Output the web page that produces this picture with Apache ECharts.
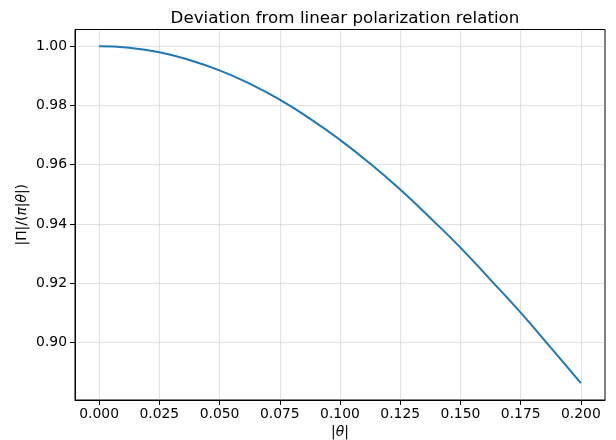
<!DOCTYPE html>
<html>
<head>
<meta charset="utf-8">
<script src="https://cdn.jsdelivr.net/npm/echarts@6/dist/echarts.min.js"></script>
<style>html,body{margin:0;padding:0;background:#fff}#c{width:616px;height:440px}</style>
</head>
<body>
<div id="c"></div>
<script>
const thetaValues = [0.0000, 0.0125, 0.0250, 0.0375, 0.0500, 0.0625, 0.0750, 0.0875, 0.1000, 0.1125, 0.1250, 0.1375, 0.1500, 0.1625, 0.1750, 0.1875, 0.2000];
const ratioValues = [1.0000, 0.9995, 0.9980, 0.9954, 0.9919, 0.9874, 0.9820, 0.9756, 0.9684, 0.9604, 0.9516, 0.9420, 0.9320, 0.9211, 0.9100, 0.8982, 0.8862];
const xTicks = [0.000, 0.025, 0.050, 0.075, 0.100, 0.125, 0.150, 0.175, 0.200];
const yTicks = [0.90, 0.92, 0.94, 0.96, 0.98, 1.00];
const titleText = 'Deviation from linear polarization relation';

const chart = echarts.init(document.getElementById('c'), null, {renderer: 'canvas'});
const font = 'DejaVu Sans';
const fs = 13.9;
const gridColor = 'rgba(176,176,176,0.38)';
chart.setOption({
  animation: false,
  backgroundColor: '#fff',
  title: {
    text: titleText,
    left: 340, top: 5, textAlign: 'center',
    textStyle: {fontFamily: font, fontSize: 16.7, fontWeight: 'normal', color: '#000'}
  },
  grid: {left: 75, right: 11, top: 29.5, bottom: 40, outerBoundsMode: 'none', containLabel: false, show: true, borderColor: '#000', borderWidth: 1, backgroundColor: 'transparent'},
  xAxis: {
    type: 'value', min: -0.01, max: 0.21,
    name: '{a||}{i|θ}{a||}', nameLocation: 'middle', nameGap: 25, nameMoveOverlap: false,
    nameTextStyle: {fontFamily: font, fontSize: fs, color: '#000',
      rich: {a: {fontFamily: font, fontSize: fs, color: '#000'}, i: {fontFamily: font, fontSize: fs, fontStyle: 'italic', color: '#000'}}},
    axisLine: {show: true, onZero: false, lineStyle: {color: '#000', width: 1}},
    axisTick: {show: true, inside: false, length: 5, customValues: xTicks, lineStyle: {color: '#000', width: 1}},
    axisLabel: {show: true, customValues: xTicks, margin: 7, fontFamily: font, fontSize: fs, color: '#000', formatter: v => v.toFixed(3)},
    splitLine: {show: true, lineStyle: {color: gridColor, width: 1}}
  },
  yAxis: {
    type: 'value', min: 0.8805, max: 1.0057,
    name: '{a||Π|/(}{i|π}{a||}{i|θ}{a||)}', nameLocation: 'middle', nameGap: 46, nameRotate: 90, nameMoveOverlap: false,
    nameTextStyle: {fontFamily: font, fontSize: fs, color: '#000',
      rich: {a: {fontFamily: font, fontSize: fs, color: '#000'}, i: {fontFamily: font, fontSize: fs, fontStyle: 'italic', color: '#000'}}},
    axisLine: {show: true, onZero: false, lineStyle: {color: '#000', width: 1}},
    axisTick: {show: true, inside: false, length: 5, customValues: yTicks, lineStyle: {color: '#000', width: 1}},
    axisLabel: {show: true, customValues: yTicks, margin: 8, fontFamily: font, fontSize: fs, color: '#000', formatter: v => v.toFixed(2)},
    splitLine: {show: true, lineStyle: {color: gridColor, width: 1}}
  },
  series: [{
    type: 'line',
    data: thetaValues.map((t, i) => [t, ratioValues[i]]),
    showSymbol: false, smooth: true,
    lineStyle: {color: '#1f77b4', width: 2},
    itemStyle: {color: '#1f77b4'}
  }]
});
</script>
</body>
</html>
